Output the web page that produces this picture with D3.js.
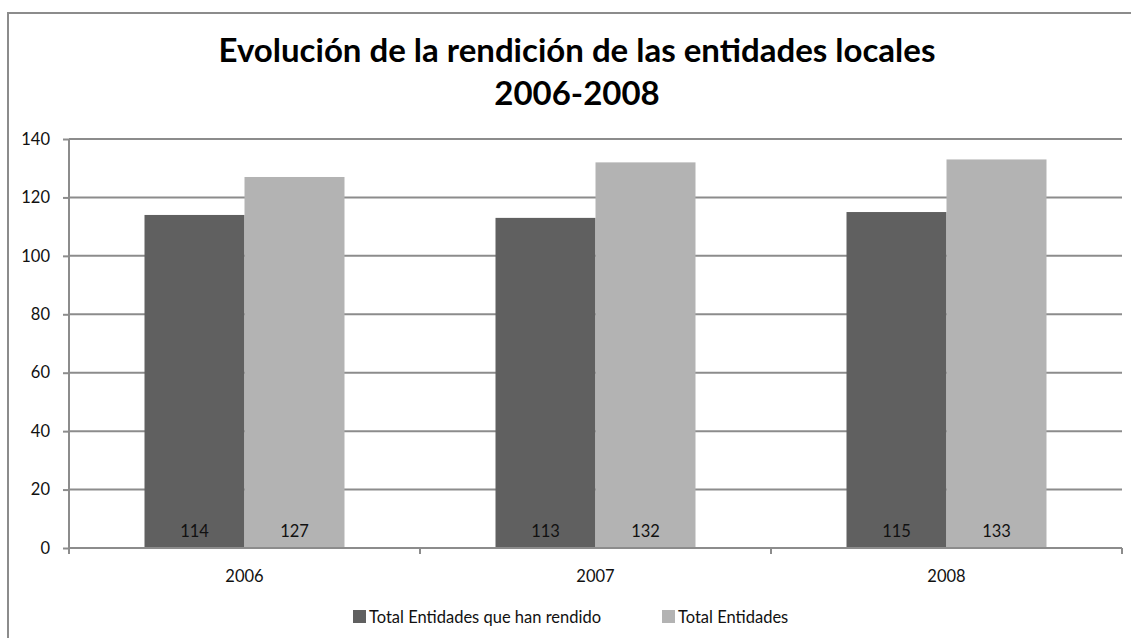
<!DOCTYPE html>
<html><head><meta charset="utf-8">
<script src="https://cdn.jsdelivr.net/npm/d3@7"></script>
<style>body{margin:0;background:#fff}svg{display:block}text{font-family:Lato,"Open Sans",sans-serif}</style>
</head><body><svg id="c" width="1131" height="638"></svg>
<script>
const categories = ["2006","2007","2008"];
const seriesNames = ["Total Entidades que han rendido","Total Entidades"];
const rendido = [114,113,115];
const total = [127,132,133];
const yTicks = [0,20,40,60,80,100,120,140];
const titleLines = ["Evolución de la rendición de las entidades locales","2006-2008"];
const colors = ["#606060","#b3b3b3"];

const FS = 16.5;
const TC = "#111";
const svg = d3.select("#c");
const m = {l:69, r:1122, t:139, b:548};
svg.append("rect").attr("x",8).attr("y",13).attr("width",1140).attr("height",640)
  .attr("fill","none").attr("stroke","#8c8c8c").attr("stroke-width",2);

const x = d3.scaleBand().domain(categories).range([m.l,m.r]).paddingInner(0).paddingOuter(0);
const y = d3.scaleLinear().domain([0,140]).range([m.b,m.t]);

// gridlines
svg.append("g").selectAll("line").data(yTicks.filter(d=>d>0)).join("line")
  .attr("x1",m.l).attr("x2",m.r).attr("y1",d=>y(d)).attr("y2",d=>y(d))
  .attr("stroke","#8c8c8c").attr("stroke-width",2);

const data = [rendido,total];
const bw = 100;
categories.forEach((c,i)=>{
  data.forEach((s,j)=>{
    const cx = x(c)+x.bandwidth()/2;
    const bx = cx - bw + j*bw;
    svg.append("rect").attr("x",bx).attr("y",y(s[i])).attr("width",bw).attr("height",y(0)-y(s[i]))
      .attr("fill",colors[j]);
    svg.append("text").attr("x",bx+bw/2).attr("y",537).attr("text-anchor","middle")
      .attr("font-size",FS).attr("fill",TC).text(s[i]);
  });
});

// y axis
const ya = svg.append("g").attr("transform",`translate(${m.l},0)`)
  .call(d3.axisLeft(y).tickValues(yTicks).tickSize(6).tickPadding(13).tickFormat(d3.format("d")));
ya.select(".domain").attr("stroke","#8c8c8c").attr("stroke-width",2).attr("d",`M0,${m.t}V${m.b+5}`);
ya.selectAll(".tick line").attr("stroke","#8c8c8c").attr("stroke-width",2);
ya.selectAll("text").attr("font-size",FS).attr("fill",TC).attr("font-family","Lato,'Open Sans',sans-serif");

// x axis
const xa = svg.append("g").attr("transform",`translate(0,${m.b})`)
  .call(d3.axisBottom(x).tickSize(0).tickPadding(22));
xa.select(".domain").attr("stroke","#8c8c8c").attr("stroke-width",2).attr("d",`M${m.l},0H${m.r}`);
xa.selectAll("text").attr("font-size",FS).attr("fill",TC).attr("font-family","Lato,'Open Sans',sans-serif");
svg.append("g").selectAll("line").data(d3.range(categories.length+1)).join("line")
  .attr("x1",i=>m.l+i*x.bandwidth()).attr("x2",i=>m.l+i*x.bandwidth())
  .attr("y1",m.b).attr("y2",m.b+6).attr("stroke","#8c8c8c").attr("stroke-width",2);

// title
svg.append("text").attr("x",577).attr("y",62).attr("text-anchor","middle")
  .attr("font-size",33).attr("font-weight","bold").attr("fill","#000").text(titleLines[0]);
svg.append("text").attr("x",577).attr("y",105).attr("text-anchor","middle")
  .attr("font-size",33).attr("font-weight","bold").attr("fill","#000").text(titleLines[1]);

// legend
const lx = [353,662];
seriesNames.forEach((n,j)=>{
  svg.append("rect").attr("x",lx[j]).attr("y",610).attr("width",13).attr("height",13).attr("fill",colors[j]);
  svg.append("text").attr("x",lx[j]+16).attr("y",623).attr("font-size",FS).attr("fill",TC).text(n);
});
</script></body></html>
